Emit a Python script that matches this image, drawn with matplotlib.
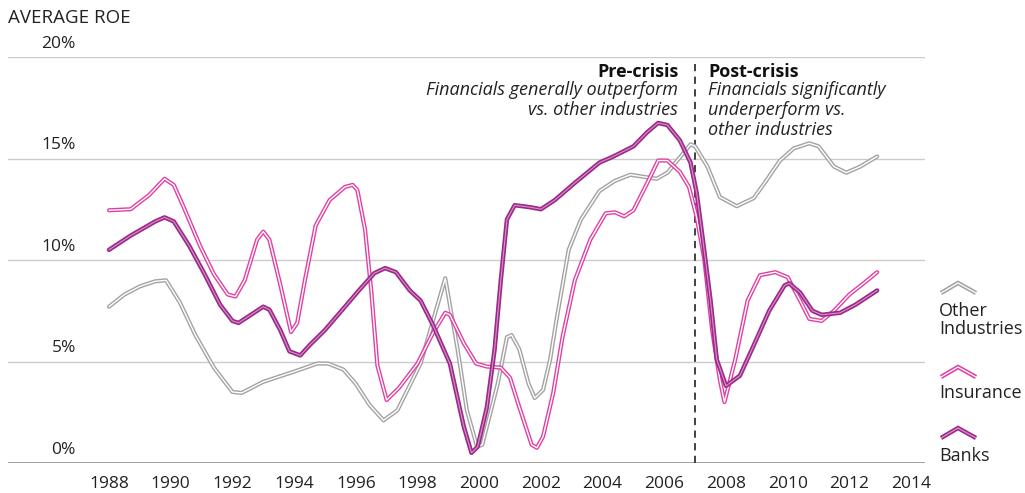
import matplotlib.pyplot as plt

plt.rcParams['font.family'] = ['Open Sans', 'Noto Sans', 'DejaVu Sans']

# Other industries (gray)
other_yr = [1988, 1988.5, 1989, 1989.5, 1989.85, 1990.3, 1990.8, 1991.4, 1992, 1992.3,
            1993, 1994, 1994.75, 1995.1, 1995.6, 1996, 1996.45, 1996.9, 1997.35,
            1998.1, 1998.5, 1998.9, 1999.3, 1999.6, 1999.93, 2000.1, 2000.6, 2000.9,
            2001.05, 2001.3, 2001.6, 2001.8, 2002.07, 2002.3, 2002.5, 2002.9, 2003.3,
            2003.9, 2004.4, 2004.9, 2005.75, 2006.1, 2006.85, 2007.0, 2007.4, 2007.8,
            2008.35, 2008.9, 2009.3, 2009.75, 2010.2, 2010.7, 2011.0, 2011.5, 2011.9,
            2012.35, 2012.9]
other_roe = [7.7, 8.3, 8.7, 8.95, 9.0, 7.9, 6.3, 4.7, 3.5, 3.45,
             4.0, 4.5, 4.9, 4.9, 4.6, 3.9, 2.85, 2.1, 2.6,
             4.9, 7.0, 9.1, 5.6, 2.6, 0.8, 0.9, 3.9, 6.2,
             6.3, 5.6, 3.9, 3.2, 3.6, 5.1, 7.0, 10.5, 12.0,
             13.4, 13.9, 14.2, 14.0, 14.3, 15.7, 15.6, 14.6, 13.1,
             12.65, 13.05, 13.9, 14.9, 15.5, 15.75, 15.6, 14.6, 14.3,
             14.6, 15.1]

# Insurance (pink)
ins_yr = [1988, 1988.7, 1989.3, 1989.8, 1990.1, 1990.45, 1990.95, 1991.4, 1991.85,
          1992.1, 1992.4, 1992.8, 1993.0, 1993.2, 1993.55, 1993.9, 1994.1, 1994.35,
          1994.7, 1995.15, 1995.65, 1995.9, 1996.05, 1996.3, 1996.5, 1996.7, 1997.0,
          1997.4, 1998.0, 1998.5, 1998.9, 1999.05, 1999.5, 1999.9, 2000.25, 2000.7,
          2001.0, 2001.3, 2001.7, 2001.87, 2002.07, 2002.4, 2002.7, 2003.1, 2003.6,
          2004.1, 2004.4, 2004.7, 2005.0, 2005.45, 2005.8, 2006.1, 2006.5, 2006.8,
          2007.05, 2007.3, 2007.55, 2007.8, 2007.95, 2008.3, 2008.7, 2009.1, 2009.6,
          2010.0, 2010.4, 2010.7, 2011.1, 2011.5, 2012.0, 2012.5, 2012.9]
ins_roe = [12.45, 12.5, 13.2, 14.0, 13.7, 12.5, 10.7, 9.3, 8.3,
           8.2, 9.0, 11.0, 11.4, 11.0, 8.8, 6.45, 6.9, 9.0,
           11.7, 12.95, 13.6, 13.7, 13.45, 11.5, 8.5, 4.8, 3.1,
           3.7, 4.9, 6.4, 7.4, 7.3, 5.9, 4.9, 4.75, 4.7,
           4.2, 2.75, 0.9, 0.75, 1.3, 3.45, 6.2, 9.0, 11.0,
           12.3, 12.35, 12.15, 12.45, 13.8, 14.9, 14.9, 14.35, 13.6,
           12.1, 10.0, 6.55, 4.1, 3.0, 5.1, 8.0, 9.25, 9.4,
           9.15, 8.0, 7.1, 7.0, 7.5, 8.3, 8.9, 9.4]

# Banks (purple)
bank_yr = [1988, 1988.7, 1989.5, 1989.8, 1990.1, 1990.6, 1991.1, 1991.6, 1992.0,
           1992.2, 1992.6, 1993.0, 1993.2, 1993.55, 1993.85, 1994.2, 1994.5, 1995.0,
           1995.65, 1996.1, 1996.6, 1996.95, 1997.3, 1997.75, 1998.1, 1998.5, 1999.05,
           1999.5, 1999.75, 1999.95, 2000.25, 2000.5, 2000.7, 2000.9, 2001.15, 2001.65,
           2002.0, 2002.45, 2003.1, 2003.9, 2004.35, 2005.0, 2005.45, 2005.8, 2006.1,
           2006.5, 2006.85, 2007.05, 2007.25, 2007.5, 2007.7, 2008.0, 2008.45, 2008.9,
           2009.4, 2009.9, 2010.05, 2010.4, 2010.8, 2011.1, 2011.7, 2012.2, 2012.9]
bank_roe = [10.5, 11.2, 11.9, 12.1, 11.9, 10.7, 9.3, 7.8, 7.0,
            6.9, 7.3, 7.7, 7.55, 6.55, 5.5, 5.3, 5.8, 6.55,
            7.7, 8.5, 9.35, 9.6, 9.4, 8.5, 8.0, 6.8, 4.9,
            1.8, 0.5, 0.8, 2.75, 5.6, 9.0, 12.0, 12.7, 12.6,
            12.5, 12.95, 13.8, 14.8, 15.1, 15.6, 16.3, 16.75, 16.65,
            15.9, 14.8, 13.3, 11.0, 8.0, 5.1, 3.8, 4.3, 5.8,
            7.5, 8.75, 8.85, 8.4, 7.5, 7.3, 7.4, 7.8, 8.5]

yticks = [0, 5, 10, 15, 20]
xticks = list(range(1988, 2015, 2))

gray = '#a3a3a3'
pink = '#e23fa2'
purple = '#9b2a88'
txt = '#222222'

fig = plt.figure(figsize=(10.25, 4.93), dpi=100)
ax = fig.add_axes([8 / 1025, 30 / 493, 917 / 1025, 406 / 493])
ax.set_xlim(1988 - 101 / 30.85, 1988 + 816 / 30.85)
ax.set_ylim(0, 20)
for s in ax.spines.values():
    s.set_visible(False)

for v in yticks[1:]:
    ax.axhline(v, color='#cccccc', lw=1.0, zorder=1)
ax.axhline(0, color='#999999', lw=1.3, zorder=1)
for v in yticks:
    ax.text(1986.93, v + 0.25, '%d%%' % v, ha='right', va='bottom', fontsize=12.5, color=txt)

ax.set_yticks([])
ax.set_xticks(xticks)
ax.set_xticklabels([str(x) for x in xticks], fontsize=12.5, color=txt)
ax.tick_params(axis='x', length=0, pad=9)

ax.axvline(2007, ymax=0.985, color='#333333', lw=1.3, ls=(0, (4, 3)), zorder=2)


def outlined(x, y, edge, core, w_out=3.0, w_in=1.0):
    ax.plot(x, y, color=edge, lw=w_out, solid_joinstyle='round', solid_capstyle='round', zorder=3)
    ax.plot(x, y, color=core, lw=w_in, solid_joinstyle='round', solid_capstyle='round', zorder=3)


outlined(other_yr, other_roe, gray, 'white')
outlined(ins_yr, ins_roe, pink, 'white')
outlined(bank_yr, bank_roe, purple, '#d98fcc', 3.2, 0.8)

# annotations
ax.text(2006.45, 19.26, 'Pre-crisis', ha='right', va='center', fontsize=13, fontweight='bold', color='#111111')
ax.text(2006.45, 18.37, 'Financials generally outperform', ha='right', va='center',
        fontsize=13, style='italic', color=txt)
ax.text(2006.45, 17.39, 'vs. other industries', ha='right', va='center',
        fontsize=13, style='italic', color=txt)
ax.text(2007.42, 19.26, 'Post-crisis', ha='left', va='center', fontsize=13, fontweight='bold', color='#111111')
for i, line in enumerate(['Financials significantly', 'underperform vs.', 'other industries']):
    ax.text(2007.42, 18.37 - i * 0.98, line, ha='left', va='center', fontsize=13, style='italic', color=txt)

# overlay in pixel coords for title and legend
ov = fig.add_axes([0, 0, 1, 1])
ov.set_xlim(0, 1025)
ov.set_ylim(493, 0)
ov.axis('off')
ov.patch.set_alpha(0)

ov.text(8, 18, 'AVERAGE ROE', ha='left', va='center', fontsize=13.5, color=txt)

legend = [('Other\nIndustries', gray, 'white', 293, 320), ('Insurance', pink, 'white', 377, 393),
          ('Banks', purple, '#d98fcc', 438, 456)]
for label, edge, core, cy, ty in legend:
    xs = [941, 958, 976]
    ys = [cy, cy - 10, cy]
    ov.plot(xs, ys, color=edge, lw=3.2, solid_joinstyle='miter', solid_capstyle='butt')
    ov.plot(xs, ys, color=core, lw=0.9, solid_joinstyle='miter', solid_capstyle='butt')
    ov.text(939, ty, label, ha='left', va='center', fontsize=13, color=txt, linespacing=1.0)

fig.savefig('out.png', dpi=100)
